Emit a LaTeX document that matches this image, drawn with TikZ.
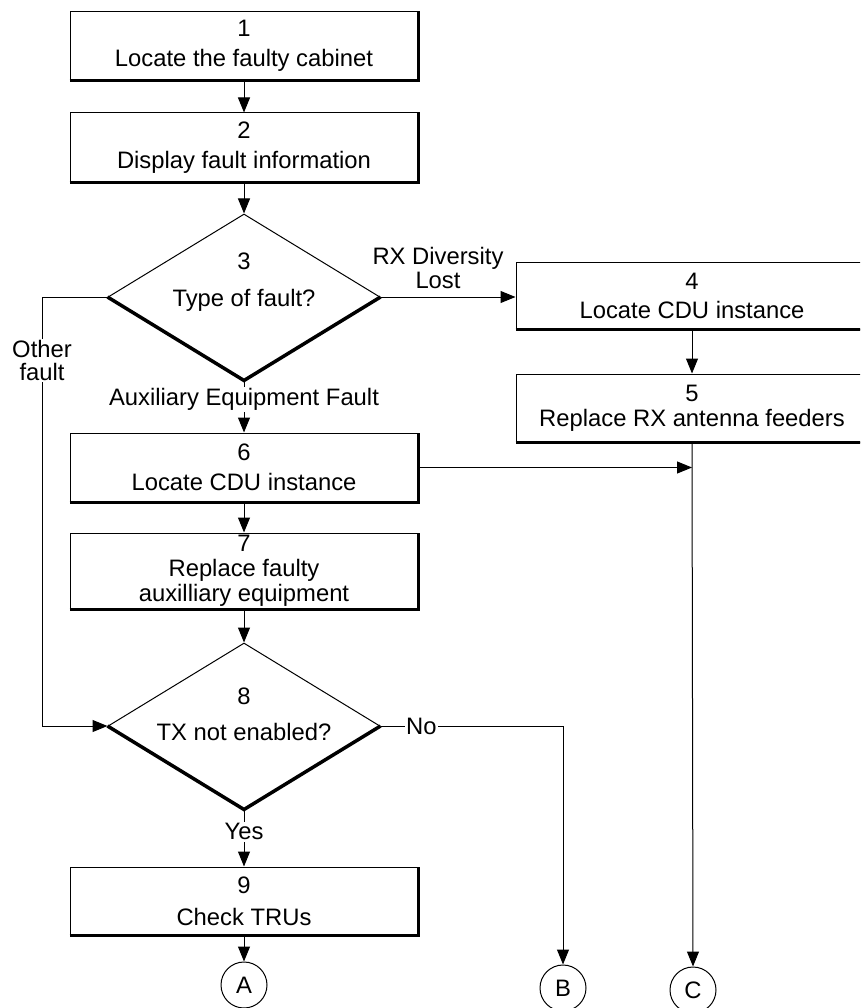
\documentclass[tikz,border=0pt]{standalone}
\usepackage{fontspec}
\setmainfont{Liberation Sans}
\usetikzlibrary{shapes.geometric,arrows.meta}
\begin{document}
\begin{tikzpicture}[x=1pt,y=-1pt,
  font=\fontsize{23.8}{30}\selectfont,
  stepbox/.style={draw, line width=1pt, minimum width=348pt, align=center, inner sep=0pt},
  widebox/.style={stepbox, minimum width=352pt},
  decision/.style={draw, diamond, line width=1pt, minimum width=272pt, minimum height=166pt, inner sep=0pt},
  heavy/.style={line width=3.5pt, line join=miter},
  connector/.style={line width=1pt, -{Triangle[length=15pt,width=12pt]}},
  flowlabel/.style={fill=white, inner sep=1.5pt, align=center},
  steptext/.style={align=center, inner sep=0pt},
  offpage/.style={draw, circle, line width=1pt, minimum size=46pt, inner sep=0pt}
]
\useasboundingbox (0,0) rectangle (860,1008);
\clip (0,0) rectangle (860,1008);

% process steps
\node[stepbox, minimum height=68pt] (b1) at (244,46) {1\\Locate the faulty cabinet};
\node[stepbox, minimum height=69pt] (b2) at (244,147.5) {2\\Display fault information};
\node[widebox, minimum height=67pt, font=\fontsize{23.8}{29}\selectfont] (b4) at (692,295.5) {4\\Locate CDU instance};
\node[widebox, minimum height=68pt, font=\fontsize{23.8}{25}\selectfont] (b5) at (692,408) {5\\Replace RX antenna feeders};
\node[stepbox, minimum height=69pt] (b6) at (244,467.5) {6\\Locate CDU instance};
\node[stepbox, minimum height=76pt, font=\fontsize{23.8}{25}\selectfont] (b7) at (244,571) {7\\Replace faulty\\auxilliary equipment};
\node[stepbox, minimum height=68pt, font=\fontsize{23.8}{32}\selectfont] (b9) at (244,901) {9\\Check TRUs};

% decisions
\node[decision] (d3) at (244,297) {};
\node[steptext, font=\fontsize{23.8}{37}\selectfont] (t3) at (244,282) {3\\Type of fault?};
\node[decision] (d8) at (244,726) {};
\node[steptext, font=\fontsize{23.8}{36}\selectfont] (t8) at (244,714) {8\\TX not enabled?};

% off-page connectors
\node[offpage] (A) at (244,985) {A};
\node[offpage] (B) at (563,988) {B};
\node[offpage] (C) at (693,990) {C};

% heavy lower/right edges
\foreach \n in {b1,b2,b4,b5,b6,b7,b9}
  \draw[heavy] (\n.south west) -- (\n.south east) -- (\n.north east);
\foreach \n in {d3,d8}
  \draw[heavy] (\n.west) -- (\n.south) -- (\n.east);

% flow
\draw[connector] (b1.south) -- (b2.north);
\draw[connector] (b2.south) -- (d3.north);
\draw[connector] (d3.east) -- (d3.east -| b4.west);
\node[steptext, font=\fontsize{23.8}{24}\selectfont] (rxlbl) at (438,268) {RX Diversity\\Lost};
\draw[connector] (b4.south) -- (b5.north);
\draw[connector] (d3.south) -- node[flowlabel, pos=0.36] (auxlbl) {Auxiliary Equipment Fault} (b6.north);
\draw[connector] (d3.west) -- (42,297) -- node[flowlabel, pos=0.148, font=\fontsize{23.8}{23}\selectfont] (otherlbl) {Other\\fault} (42,726) -- (d8.west);
\draw[connector] (b6.south) -- (b7.north);
\draw[connector] (b6.east) -- (b6.east -| b5.south);
\draw[connector] (b7.south) -- (d8.north);
\draw[connector] (d8.east) -- node[flowlabel, pos=0.224] (nolbl) {No} (563,726) -- (B.north);
\draw[connector] (d8.south) -- node[flowlabel, pos=0.39] (yeslbl) {Yes} (b9.north);
\draw[connector] (b9.south) -- (A.north);
\draw[connector] (b5.south) -- (C.north);
\end{tikzpicture}
\end{document}
